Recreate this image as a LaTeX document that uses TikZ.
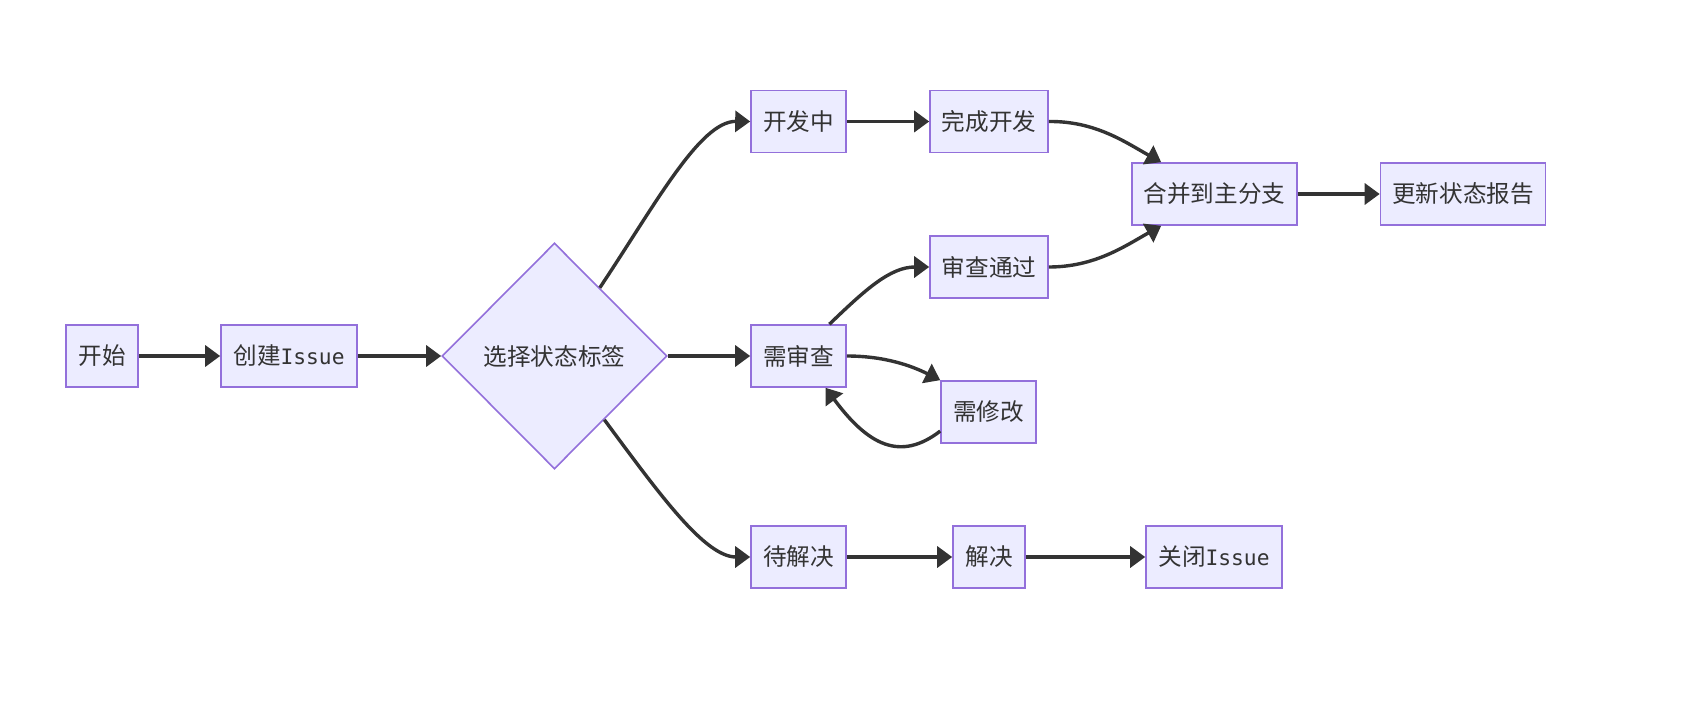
\documentclass[tikz,border=0pt]{standalone}
\usepackage{fontspec}
\setmainfont{Noto Sans CJK SC}
\newfontfamily\monof[Scale=0.9]{DejaVu Sans Mono}
\usetikzlibrary{shapes.geometric,arrows.meta,calc}
\definecolor{mfill}{HTML}{ECECFF}
\definecolor{mstroke}{HTML}{9370DB}
\definecolor{mline}{HTML}{333333}
\begin{document}
\begin{tikzpicture}[x=0.5pt,y=-0.5pt,
  box/.style={draw=mstroke,fill=mfill,line width=0.8pt,minimum height=31pt,inner sep=0pt,text=mline,font=\fontsize{11.8pt}{14pt}\selectfont},
  dia/.style={diamond,draw=mstroke,fill=mfill,line width=0.8pt,minimum width=112.5pt,minimum height=113pt,inner sep=0pt,text=mline,font=\fontsize{11.8pt}{14pt}\selectfont},
  edge/.style={draw=mline,line width=1.7pt,-{Triangle[length=7.5pt,width=10.5pt]}}]
\useasboundingbox (0,0) rectangle (1699,701);
\node[box,minimum width=36pt] (start) at (102,356) {开始};
\node[box,minimum width=68pt] (create) at (289,356) {创建{\monof Issue}};
\node[dia] (d) at (554.5,356) {选择状态标签};
\node[box,minimum width=47.5pt] (dev) at (798.5,121.5) {开发中};
\node[box,minimum width=59pt] (done) at (989,121.5) {完成开发};
\node[box,minimum width=82.5pt] (merge) at (1214.5,194) {合并到主分支};
\node[box,minimum width=82.5pt] (report) at (1463,194) {更新状态报告};
\node[box,minimum width=59pt] (pass) at (989,267) {审查通过};
\node[box,minimum width=47.5pt] (review) at (798.5,356) {需审查};
\node[box,minimum width=47.5pt] (fix) at (988.5,412) {需修改};
\node[box,minimum width=47.5pt] (pend) at (798.5,557) {待解决};
\node[box,minimum width=36pt] (solve) at (989,557) {解决};
\node[box,minimum width=68pt] (close) at (1214,557) {关闭{\monof Issue}};

\draw[edge] (start) -- (create);
\draw[edge] (create) -- (d);
\draw[edge] ($(d.north)!0.4!(d.east)$) .. controls (655,205) and (700,121) .. (dev.west);
\draw[edge] (d.east) -- (review.west);
\draw[edge] ($(d.east)!0.56!(d.south)$) .. controls (660,495) and (705,557) .. (pend.west);
\draw[edge] (dev) -- (done);
\draw[edge] (done.east) .. controls (1095,121) and (1125,142) .. ($(merge.north west)!0.18!(merge.north east)$);
\draw[edge] (pass.east) .. controls (1095,267) and (1125,246) .. ($(merge.south west)!0.18!(merge.south east)$);
\draw[edge] (merge) -- (report);
\draw[edge] ($(review.north west)!0.82!(review.north east)$) .. controls (865,290) and (890,267) .. (pass.west);
\draw[edge] (review.east) .. controls (885,356) and (912,366) .. (fix.north west);
\draw[edge] ($(fix.south west)!0.2!(fix.north west)$) .. controls (900,462) and (868,445) .. ($(review.south west)!0.78!(review.south east)$);
\draw[edge] (pend) -- (solve);
\draw[edge] (solve) -- (close);
\end{tikzpicture}
\end{document}
